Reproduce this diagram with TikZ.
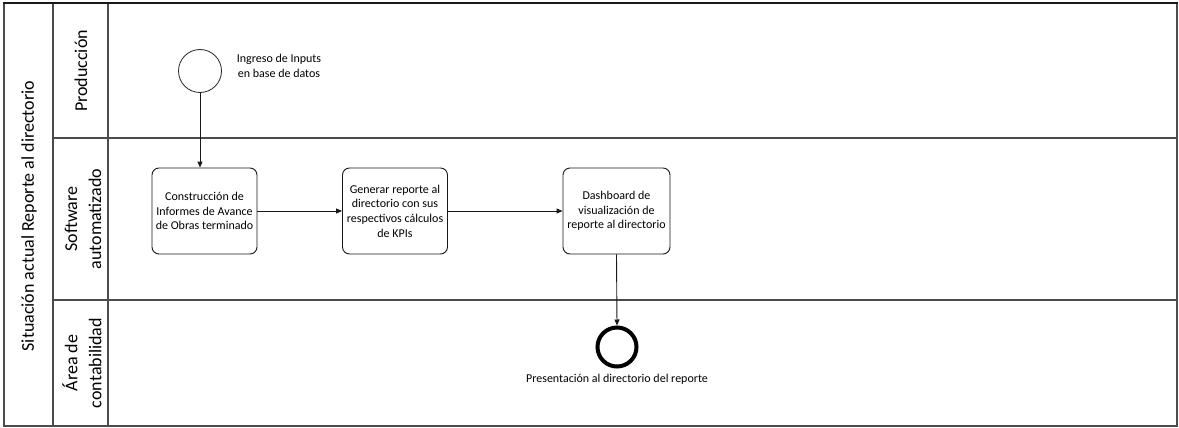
\documentclass[tikz,border=0pt]{standalone}
\usepackage{fontspec}
\setmainfont{Carlito}
\usetikzlibrary{arrows.meta}
\begin{document}
\begin{tikzpicture}[x=1pt,y=-1pt,
  frame/.style={draw=black!70, line width=1.3pt},
  task/.style={draw=black!90, line width=0.9pt, rounded corners=7pt,
    minimum width=105pt, minimum height=86pt, align=center, inner sep=1pt,
    font=\fontsize{12}{14.7}\selectfont},
  flow/.style={draw=black!90, line width=0.9pt, -{Triangle[length=6pt,width=5pt]}},
  lanetext/.style={rotate=90, align=center, font=\fontsize{18}{24}\selectfont},
  note/.style={align=center, font=\fontsize{12}{15}\selectfont},
  startev/.style={circle, draw=black!85, line width=0.8pt, minimum size=43pt, inner sep=0pt},
  endev/.style={circle, draw=black, line width=4pt, minimum size=39pt, inner sep=0pt}]

\useasboundingbox (0,0) rectangle (1179,428);
\fill[white] (0,0) rectangle (1179,428);

% pool and lane grid
\draw[frame] (4,3) rectangle (1177,426);
\draw[frame] (53,3) -- (53,426);
\draw[frame] (108,3) -- (108,426);
\draw[frame] (53,138) -- (1177,138);
\draw[frame] (53,300) -- (1177,300);
\draw[black!90, line width=2.4pt] (3,3) -- (1178,3);

% pool and lane titles
\node[lanetext] (pool) at (29,216) {Situación actual Reporte al directorio};
\node[lanetext] (lane1) at (81,71) {Producción};
\node[lanetext] (lane2) at (83,219) {Software\\automatizado};
\node[lanetext] (lane3) at (82,363) {Área de\\contabilidad};

% events
\node[startev] (start) at (200,71) {};
\node[note] (startlbl) at (279,66) {Ingreso de Inputs\\en base de datos};
\node[endev] (end) at (617,347) {};
\node[note] (endlbl) at (617,379) {Presentación al directorio del reporte};

% tasks
\node[task] (b1) at (204.5,211) {Construcción de\\Informes de Avance\\de Obras terminado};
\node[task] (b2) at (395,211) {Generar reporte al\\directorio con sus\\respectivos cálculos\\de KPIs};
\node[task, minimum width=107pt] (b3) at (616.5,211) {Dashboard de\\visualización de\\reporte al directorio};

% sequence flows
\draw[flow] (start.south) -- (start.south |- b1.north);
\draw[flow] (b1.east) -- (b2.west);
\draw[flow] (b2.east) -- (b3.west);
\draw[flow] (b3.south) -- (end.north);
\end{tikzpicture}
\end{document}
